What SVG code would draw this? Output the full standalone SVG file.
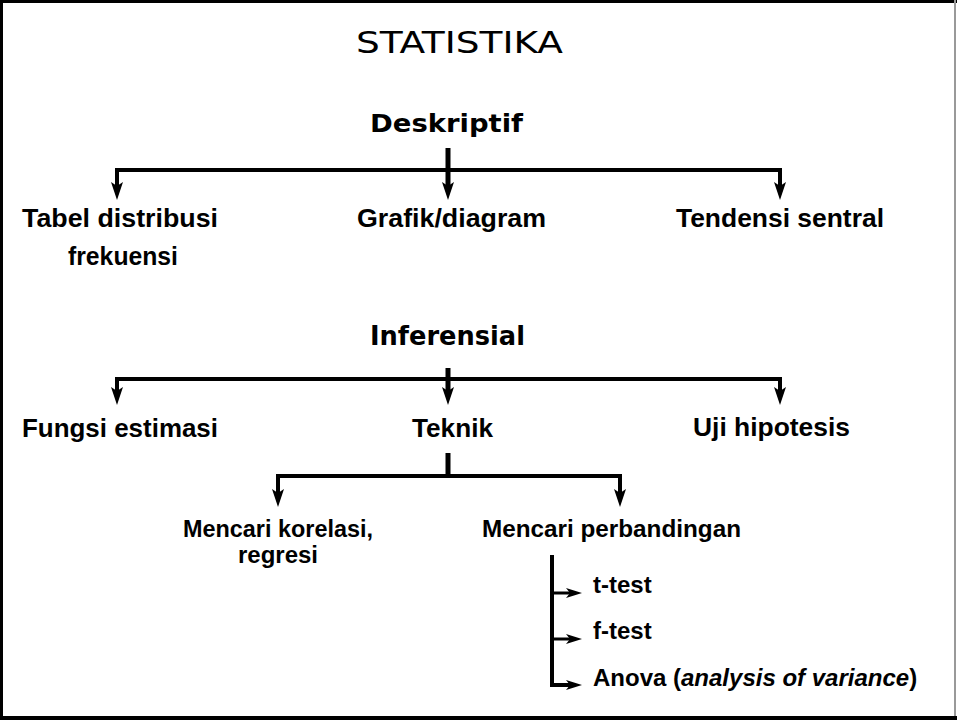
<svg xmlns="http://www.w3.org/2000/svg" width="957" height="720" viewBox="0 0 957 720">
<style>
.t{font-family:"Liberation Sans",Arial,sans-serif;font-weight:bold;font-size:25px;fill:#000}
.m{font-size:23px}
.n{font-size:24px}
.h{font-family:"DejaVu Sans","Liberation Sans",sans-serif;font-weight:bold;font-size:25px;fill:#000}
.c{fill:none;stroke:#000;stroke-width:4;stroke-linecap:butt;stroke-linejoin:miter}
.v{fill:none;stroke:#000;stroke-width:5}
.a{fill:none;stroke:#000;stroke-width:4;marker-end:url(#ah)}
.s{fill:none;stroke:#000;stroke-width:3;marker-end:url(#ahs)}
</style>
<defs>
<marker id="ah" viewBox="0 0 18 12" refX="6" refY="6" markerWidth="18" markerHeight="12" markerUnits="userSpaceOnUse" orient="auto">
<path d="M0,0 L18,6 L0,12 L4,6 Z" fill="#000"/>
</marker>
<marker id="ahs" viewBox="0 0 16 10" refX="6" refY="5" markerWidth="16" markerHeight="10" markerUnits="userSpaceOnUse" orient="auto">
<path d="M0,0 L16,5 L0,10 L4,5 Z" fill="#000"/>
</marker>
</defs>
<rect x="0" y="0" width="957" height="720" fill="#fff"/>
<rect x="0" y="0" width="957" height="3" fill="#000"/>
<rect x="0" y="0" width="3" height="720" fill="#000"/>
<rect x="0" y="716" width="957" height="4" fill="#000"/>
<rect x="954" y="0" width="2" height="716" fill="#999"/>

<g id="title"><text x="356" y="53" font-family="'DejaVu Sans Condensed','DejaVu Sans',sans-serif" font-stretch="condensed" font-size="31" textLength="207" lengthAdjust="spacingAndGlyphs">STATISTIKA</text></g>

<g id="connectors">
<line class="v" x1="448" y1="148" x2="448" y2="188"/>
<polyline class="c" points="117,188 117,170 780,170 780,188"/>
<line class="a" x1="117" y1="172" x2="117" y2="188"/>
<line class="a" x1="780" y1="172" x2="780" y2="188"/>
<line class="a" x1="448" y1="172" x2="448" y2="188"/>

<line class="v" x1="448" y1="368" x2="448" y2="393"/>
<polyline class="c" points="117,393 117,379 780,379 780,393"/>
<line class="a" x1="117" y1="381" x2="117" y2="393"/>
<line class="a" x1="780" y1="381" x2="780" y2="393"/>
<line class="a" x1="448" y1="381" x2="448" y2="393"/>

<line class="v" x1="448" y1="453" x2="448" y2="478"/>
<polyline class="c" points="278,495 278,476 620,476 620,495"/>
<line class="a" x1="278" y1="478" x2="278" y2="495"/>
<line class="a" x1="620" y1="478" x2="620" y2="495"/>

<polyline class="c" points="552,555 552,685 572,685"/>
<line class="s" x1="552" y1="593" x2="572" y2="593"/>
<line class="s" x1="552" y1="639" x2="572" y2="639"/>
<line class="s" x1="554" y1="685" x2="572" y2="685"/>
</g>

<g id="deskriptif"><text class="h" x="370" y="132" textLength="153" lengthAdjust="spacingAndGlyphs">Deskriptif</text></g>
<g id="tabel"><text class="t" x="22" y="227" textLength="196" lengthAdjust="spacingAndGlyphs">Tabel distribusi</text><text class="t" x="68" y="265" textLength="110" lengthAdjust="spacingAndGlyphs">frekuensi</text></g>
<g id="grafik"><text class="t" x="357" y="227" textLength="189" lengthAdjust="spacingAndGlyphs">Grafik/diagram</text></g>
<g id="tendensi"><text class="t" x="676" y="227" textLength="208" lengthAdjust="spacingAndGlyphs">Tendensi sentral</text></g>

<g id="inferensial"><text class="h" x="370" y="345" style="font-size:26px" textLength="155" lengthAdjust="spacingAndGlyphs">Inferensial</text></g>
<g id="fungsi"><text class="t" x="22" y="437" textLength="196" lengthAdjust="spacingAndGlyphs">Fungsi estimasi</text></g>
<g id="teknik"><text class="t" x="412" y="437" textLength="81" lengthAdjust="spacingAndGlyphs">Teknik</text></g>
<g id="uji"><text class="t" x="693" y="436" textLength="157" lengthAdjust="spacingAndGlyphs">Uji hipotesis</text></g>

<g id="korelasi"><text class="t m" x="183" y="537" textLength="190" lengthAdjust="spacingAndGlyphs">Mencari korelasi,</text><text class="t m" x="238" y="563" textLength="80" lengthAdjust="spacingAndGlyphs">regresi</text></g>
<g id="perbandingan"><text class="t m" x="482" y="537" textLength="259" lengthAdjust="spacingAndGlyphs">Mencari perbandingan</text></g>

<g id="ttest"><text class="t n" x="593" y="593">t-test</text></g>
<g id="ftest"><text class="t n" x="593" y="639">f-test</text></g>
<g id="anova"><text class="t n" x="593" y="686">Anova (<tspan font-style="italic">analysis of variance</tspan>)</text></g>
</svg>
